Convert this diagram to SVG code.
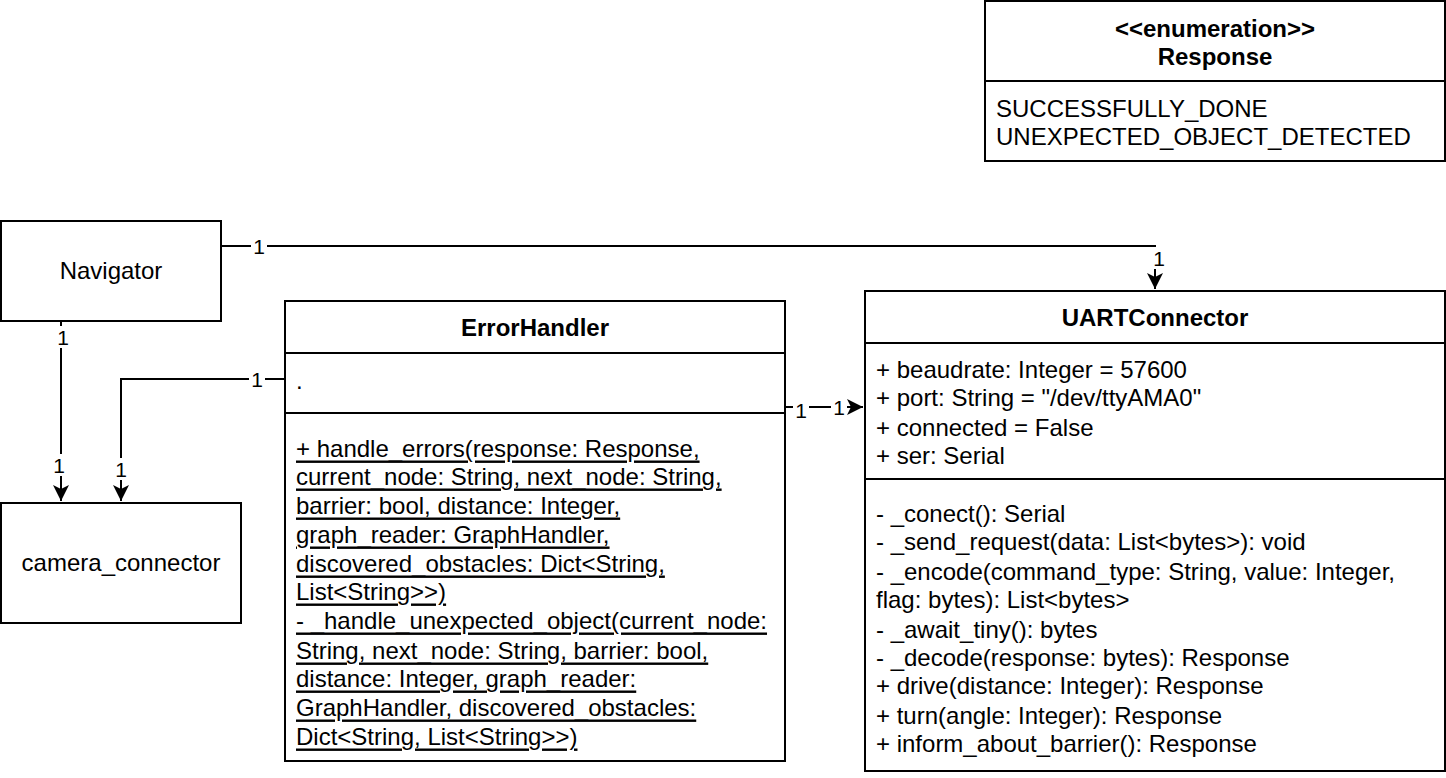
<svg xmlns="http://www.w3.org/2000/svg" width="1446" height="778" viewBox="0 0 1446 778">
<style>
.box{fill:#fff;stroke:#000;stroke-width:2}
.ln{stroke:#000;stroke-width:2;fill:none}
.t{font-family:"Liberation Sans",Arial,sans-serif;font-size:24px;fill:#000;dominant-baseline:central}
.b{font-weight:bold}
.c{text-anchor:middle}
.u{text-decoration:underline}
.lbl{font-family:"Liberation Sans",Arial,sans-serif;font-size:21px;fill:#000;text-anchor:middle;dominant-baseline:central}
.bg{fill:#fff}
</style>
<defs>
<marker id="arr" markerWidth="10" markerHeight="10" refX="9" refY="5" orient="auto" markerUnits="userSpaceOnUse" viewBox="0 0 10 10">
<path d="M0,0 L10,5 L0,10 L3,5 Z" fill="#000"/>
</marker>
<marker id="arrow" markerWidth="17" markerHeight="17" refX="16" refY="8" orient="auto" markerUnits="userSpaceOnUse" viewBox="0 0 17 16">
<path d="M0,0 L16,8 L0,16 L4,8 Z" fill="#000"/>
</marker>
</defs>
<rect width="1446" height="778" fill="#fff"/>

<g id="connectors">
<path class="ln" d="M221,246 H1155 V289" marker-end="url(#arrow)"/>
<path class="ln" d="M61,321 V501" marker-end="url(#arrow)"/>
<path class="ln" d="M285,379 H121 V501" marker-end="url(#arrow)"/>
<path class="ln" d="M785,407 H863" marker-end="url(#arrow)"/>
<rect class="bg" x="251" y="234" width="16" height="24"/>
<text class="lbl" x="259" y="246">1</text>
<rect class="bg" x="1151" y="247" width="16" height="22"/>
<text class="lbl" x="1159" y="258">1</text>
<rect class="bg" x="55" y="326" width="16" height="22"/>
<text class="lbl" x="63" y="337">1</text>
<rect class="bg" x="51" y="454" width="16" height="22"/>
<text class="lbl" x="59" y="465">1</text>
<rect class="bg" x="249" y="367" width="16" height="24"/>
<text class="lbl" x="257" y="379">1</text>
<rect class="bg" x="113" y="458" width="16" height="22"/>
<text class="lbl" x="121" y="469">1</text>
<rect class="bg" x="793" y="398" width="16" height="24"/>
<text class="lbl" x="801" y="410">1</text>
<rect class="bg" x="831" y="396" width="16" height="22"/>
<text class="lbl" x="839" y="407">1</text>
</g>

<g id="Response">
<rect class="box" x="985" y="1" width="460" height="160"/>
<line class="ln" x1="985" y1="81" x2="1445" y2="81"/>
<text class="t b c" x="1215" y="28">&lt;&lt;enumeration&gt;&gt;</text>
<text class="t b c" x="1215" y="56">Response</text>
<text class="t" x="996" y="108">SUCCESSFULLY_DONE</text>
<text class="t" x="996" y="136">UNEXPECTED_OBJECT_DETECTED</text>
</g>

<g id="Navigator">
<rect class="box" x="1" y="221" width="220" height="100"/>
<text class="t c" x="111" y="270">Navigator</text>
</g>

<g id="camera_connector">
<rect class="box" x="1" y="503" width="240" height="120"/>
<text class="t c" x="121" y="562">camera_connector</text>
</g>

<g id="ErrorHandler">
<rect class="box" x="285" y="301" width="500" height="460"/>
<line class="ln" x1="285" y1="353" x2="785" y2="353"/>
<line class="ln" x1="285" y1="413" x2="785" y2="413"/>
<text class="t b c" x="535" y="327">ErrorHandler</text>
<text class="t" x="296" y="380">.</text>
<text class="t u" x="296" y="448">+ handle_errors(response: Response,</text>
<text class="t u" x="296" y="476">current_node: String, next_node: String,</text>
<text class="t u" x="296" y="505">barrier: bool, distance: Integer,</text>
<text class="t u" x="296" y="534">graph_reader: GraphHandler,</text>
<text class="t u" x="296" y="563">discovered_obstacles: Dict&lt;String,</text>
<text class="t u" x="296" y="591">List&lt;String&gt;&gt;)</text>
<text class="t u" x="296" y="620">- _handle_unexpected_object(current_node:</text>
<text class="t u" x="296" y="650">String, next_node: String, barrier: bool,</text>
<text class="t u" x="296" y="678">distance: Integer, graph_reader:</text>
<text class="t u" x="296" y="707">GraphHandler, discovered_obstacles:</text>
<text class="t u" x="296" y="736">Dict&lt;String, List&lt;String&gt;&gt;)</text>
</g>

<g id="UARTConnector">
<rect class="box" x="865" y="291" width="580" height="480"/>
<line class="ln" x1="865" y1="343" x2="1445" y2="343"/>
<line class="ln" x1="865" y1="479" x2="1445" y2="479"/>
<text class="t b c" x="1155" y="317">UARTConnector</text>
<text class="t" x="876" y="369">+ beaudrate: Integer = 57600</text>
<text class="t" x="876" y="397">+ port: String = "/dev/ttyAMA0"</text>
<text class="t" x="876" y="427">+ connected = False</text>
<text class="t" x="876" y="455">+ ser: Serial</text>
<text class="t" x="876" y="513">- _conect(): Serial</text>
<text class="t" x="876" y="541">- _send_request(data: List&lt;bytes&gt;): void</text>
<text class="t" x="876" y="571">- _encode(command_type: String, value: Integer,</text>
<text class="t" x="876" y="599">flag: bytes): List&lt;bytes&gt;</text>
<text class="t" x="876" y="629">- _await_tiny(): bytes</text>
<text class="t" x="876" y="657">- _decode(response: bytes): Response</text>
<text class="t" x="876" y="685">+ drive(distance: Integer): Response</text>
<text class="t" x="876" y="715">+ turn(angle: Integer): Response</text>
<text class="t" x="876" y="743">+ inform_about_barrier(): Response</text>
</g>
</svg>
